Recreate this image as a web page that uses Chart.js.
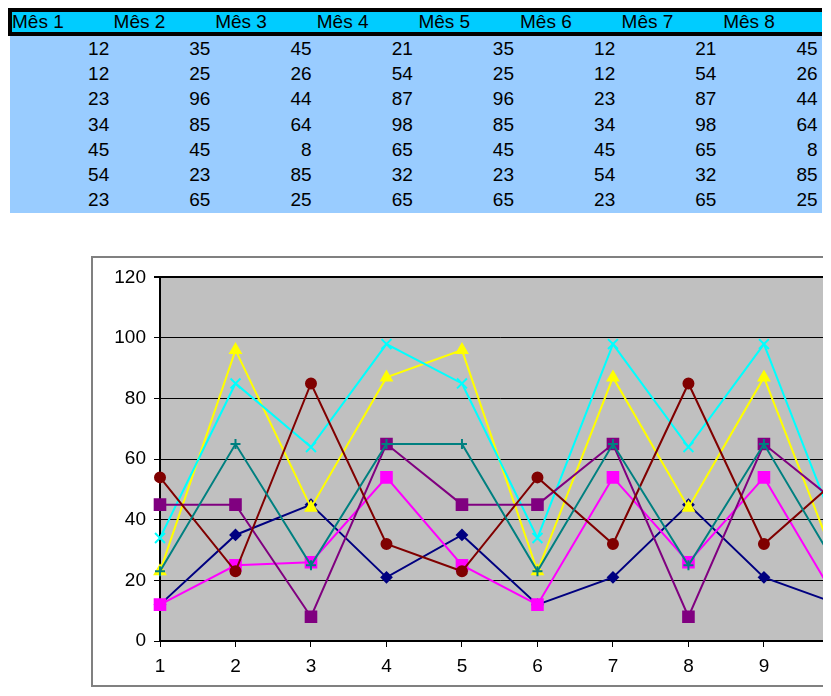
<!DOCTYPE html>
<html>
<head>
<meta charset="utf-8">
<script src="https://cdn.jsdelivr.net/npm/chart.js@4/dist/chart.umd.min.js"></script>
<style>
    body { margin: 0; background: #fff; font-family: "Liberation Sans", Arial, sans-serif; }
    #page { position: absolute; left: 0; top: 0; width: 823px; height: 696px; overflow: hidden; background: #fff; }
    #head { position: absolute; left: 8px; top: 8px; width: 810px; height: 20px; background: #00CCFF;
            border-top: 4px solid #000; border-left: 4px solid #000; border-bottom: 4px solid #000; }
    #body { position: absolute; left: 10px; top: 36px; width: 812px; height: 177px; background: #99CCFF; }
    .cell { position: absolute; font-size: 19px; line-height: 20px; color: #000; white-space: nowrap; }
    #frame { position: absolute; left: 91px; top: 256px; width: 900px; height: 427px; border: 2px solid #808080; }
    #chartBox { position: absolute; left: 93px; top: 258px; width: 765px; height: 427px; }
</style>
</head>
<body>
<div id="page">
    <div id="head"></div>
    <div id="body"></div>
    <div id="frame"></div>
    <div id="chartBox"><canvas id="chart" width="765" height="427"></canvas></div>
</div>
<script>
// table header and x labels
const months = ["Mês 1", "Mês 2", "Mês 3", "Mês 4", "Mês 5", "Mês 6", "Mês 7", "Mês 8"];
const xLabels = ["1", "2", "3", "4", "5", "6", "7", "8", "9", "10"];

// one row of the sheet per series
const serie1 = [12, 35, 45, 21, 35, 12, 21, 45, 21, 12];
const serie2 = [12, 25, 26, 54, 25, 12, 54, 26, 54, 12];
const serie3 = [23, 96, 44, 87, 96, 23, 87, 44, 87, 23];
const serie4 = [34, 85, 64, 98, 85, 34, 98, 64, 98, 34];
const serie5 = [45, 45, 8, 65, 45, 45, 65, 8, 65, 45];
const serie6 = [54, 23, 85, 32, 23, 54, 32, 85, 32, 54];
const serie7 = [23, 65, 25, 65, 65, 23, 65, 25, 65, 23];

const rows = [serie1, serie2, serie3, serie4, serie5, serie6, serie7];

// build the sheet (only the columns that fit)
const colW = 101.2;
const head = document.getElementById("head");
months.forEach((m, i) => {
    const d = document.createElement("div");
    d.className = "cell";
    d.textContent = m;
    d.style.left = (colW * i + 0.4 * i) + "px";
    d.style.top = "0px";
    head.appendChild(d);
});
const body = document.getElementById("body");
rows.forEach((r, ri) => {
    months.forEach((m, ci) => {
        const d = document.createElement("div");
        d.className = "cell";
        d.textContent = r[ci];
        d.style.right = (812 - colW * (ci + 1) + 2) + "px";
        d.style.top = (2.6 + ri * 25.3) + "px";
        body.appendChild(d);
    });
});

// gray plot area like the old excel charts
const plotBg = {
    id: "plotBg",
    beforeDraw(chart) {
        const a = chart.chartArea;
        const ctx = chart.ctx;
        ctx.save();
        ctx.fillStyle = "#C0C0C0";
        ctx.fillRect(a.left, a.top, a.right - a.left, a.bottom - a.top);
        ctx.restore();
    },
};

const styles = [
    {color: "#000080", point: "rectRot", radius: 5},
    {color: "#FF00FF", point: "rect", radius: 7.5},
    {color: "#FFFF00", point: "triangle", radius: 6},
    {color: "#00FFFF", point: "crossRot", radius: 7},
    {color: "#800080", point: "rect", radius: 7.5},
    {color: "#800000", point: "circle", radius: 5},
    {color: "#008080", point: "cross", radius: 5},
];

const font = {family: "'Liberation Sans', Arial, sans-serif", size: 19};

new Chart(document.getElementById("chart"), {
    type: "line",
    data: {
        labels: xLabels,
        datasets: rows.map((r, i) => ({
            data: r,
            borderColor: styles[i].color,
            backgroundColor: styles[i].color,
            borderWidth: 2,
            pointStyle: styles[i].point,
            pointRadius: styles[i].radius,
            pointBorderWidth: 2,
            tension: 0,
            clip: false,
            order: rows.length - i, // later series on top
        })),
    },
    options: {
        responsive: false,
        animation: false,
        layout: {padding: {left: 0, right: 15, top: 18, bottom: 0}},
        plugins: {
            legend: {display: false},
            tooltip: {enabled: false},
        },
        scales: {
            x: {
                offset: false,
                grid: {drawOnChartArea: false, drawTicks: true, tickLength: 6, color: "#000"},
                border: {color: "#000", width: 2},
                ticks: {color: "#000", font: font, padding: 8, maxRotation: 0, autoSkip: false},
                afterFit(scale) { scale.height = 44; },
            },
            y: {
                min: 0,
                max: 120,
                grid: {
                    color: "#000",
                    tickLength: 6,
                    lineWidth: (ctx) => (ctx.tick && ctx.tick.value === 120 ? 2 : 1),
                },
                border: {color: "#000", width: 2},
                ticks: {stepSize: 20, color: "#000", font: font, padding: 8},
                afterFit(scale) { scale.width = 67; },
            },
        },
    },
    plugins: [plotBg],
});
</script>
</body>
</html>
